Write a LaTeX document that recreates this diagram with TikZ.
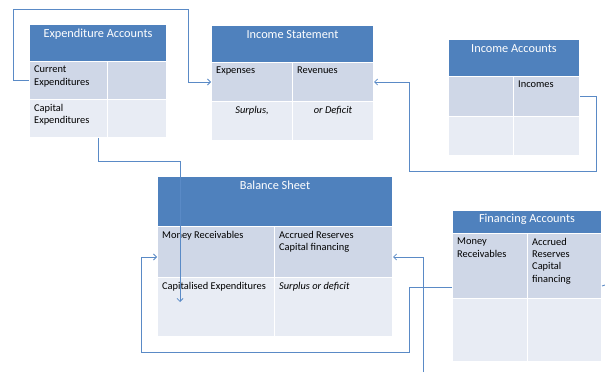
\documentclass[tikz,border=0pt]{standalone}
\usepackage{fontspec}
\setmainfont{Carlito}
\usetikzlibrary{arrows.meta}
\definecolor{headblue}{HTML}{4F81BD}
\definecolor{rowdark}{HTML}{CFD7E7}
\definecolor{rowlight}{HTML}{E8ECF4}
\definecolor{linkblue}{HTML}{5A8AC6}
\begin{document}
\begin{tikzpicture} [
  x=1pt, y=-1pt,
  box/.style= {rectangle,draw=white,line width=1pt,anchor=north west,inner sep=0pt},
  head/.style= {box,fill=headblue},
  dark/.style= {box,fill=rowdark},
  light/.style= {box,fill=rowlight},
  head text/.style= {anchor=north,inner sep=5pt,text=white,font=\fontsize{12.3}{14}\selectfont},
  cell text/.style= {anchor=north west,align=left,inner sep=5pt,font=\fontsize{10.4}{12.2}\selectfont},
  link/.style= {draw=linkblue,line width=0.8pt},
  arrow link/.style= {link,-{Straight Barb[length=3pt,width=6pt]}},
]
\useasboundingbox (0,0) rectangle (605,374);

% expenditure accounts
\node (ea-head) [head,minimum width=137pt,minimum height=37pt,label={[head text]north:Expenditure Accounts}] at (29,24) {};
\node (ea-cur) [dark,minimum width=78pt,minimum height=38pt,label={[cell text]north west:{Current\\Expenditures}}] at (29,61) {};
\node (ea-cur-r) [dark,minimum width=59pt,minimum height=38pt] at (107,61) {};
\node (ea-cap) [light,minimum width=78pt,minimum height=38pt,label={[cell text]north west:{Capital\\Expenditures}}] at (29,99) {};
\node (ea-cap-r) [light,minimum width=59pt,minimum height=38pt] at (107,99) {};

% income statement
\node (is-head) [head,minimum width=162pt,minimum height=37pt,label={[head text]north:Income Statement}] at (211,25) {};
\node (is-exp) [dark,minimum width=81pt,minimum height=39pt,label={[cell text]north west:Expenses}] at (211,62) {};
\node (is-rev) [dark,minimum width=81pt,minimum height=39pt,label={[cell text]north west:Revenues}] at (292,62) {};
\node (is-sur) [light,minimum width=81pt,minimum height=39pt,label={[cell text,anchor=north]north:\itshape Surplus,}] at (211,101) {};
\node (is-def) [light,minimum width=81pt,minimum height=39pt,label={[cell text,anchor=north]north:\itshape or Deficit}] at (292,101) {};

% income accounts
\node (ia-head) [head,minimum width=131pt,minimum height=37pt,label={[head text]north:Income Accounts}] at (448,39) {};
\node (ia-a) [dark,minimum width=65pt,minimum height=40pt] at (448,76) {};
\node (ia-inc) [dark,minimum width=66pt,minimum height=40pt,label={[cell text]north west:Incomes}] at (513,76) {};
\node (ia-c) [light,minimum width=65pt,minimum height=39pt] at (448,116) {};
\node (ia-d) [light,minimum width=66pt,minimum height=39pt] at (513,116) {};

% balance sheet
\node (bs-head) [head,minimum width=235pt,minimum height=50pt,label={[head text]north:Balance Sheet}] at (157,176) {};
\node (bs-mr) [dark,minimum width=117pt,minimum height=51pt,label={[cell text]north west:Money Receivables}] at (157,226) {};
\node (bs-acc) [dark,minimum width=118pt,minimum height=51pt,label={[cell text]north west:{Accrued Reserves\\Capital financing}}] at (274,226) {};
\node (bs-cap) [light,minimum width=117pt,minimum height=59pt,label={[cell text]north west:Capitalised Expenditures}] at (157,277) {};
\node (bs-sur) [light,minimum width=118pt,minimum height=59pt,label={[cell text]north west:\itshape Surplus or deficit}] at (274,277) {};

% financing accounts
\node (fa-head) [head,minimum width=149pt,minimum height=23pt,label={[head text,inner sep=4pt]north:Financing Accounts}] at (452,210) {};
\node (fa-mr) [dark,minimum width=75pt,minimum height=65pt,label={[cell text]north west:{Money\\Receivables}}] at (452,233) {};
\node (fa-acc) [dark,minimum width=74pt,minimum height=65pt,label={[cell text]north west:{Accrued\\Reserves\\Capital\\financing}}] at (527,233) {};
\node (fa-c) [light,minimum width=75pt,minimum height=63pt] at (452,298) {};
\node (fa-d) [light,minimum width=74pt,minimum height=63pt] at (527,298) {};

% links
\coordinate (bs-in) at (180,302);
\coordinate (fa-in) at (423,372);
\coordinate (fa-out) at (605,285);
\draw [arrow link] (ea-cur.west) -- ++(-16,0) |- (188,9) |- (is-exp.west);
\draw [arrow link] ([xshift=-10pt]ea-cap.south east) -- ++(0,23) -| (bs-in);
\draw [arrow link] (ia-inc.east) -- ++(16,0) |- (409,171) |- (is-rev.east);
\draw [arrow link] ([yshift=12pt]fa-mr.south west) -- ++(-43,0) |- (141,352) |- ([yshift=-5pt]bs-mr.west);
\draw [arrow link] (fa-in) |- ([yshift=-5pt]bs-acc.east);
\draw [link] ([yshift=13pt]fa-acc.south east) -- (fa-out);

\end{tikzpicture}
\end{document}
